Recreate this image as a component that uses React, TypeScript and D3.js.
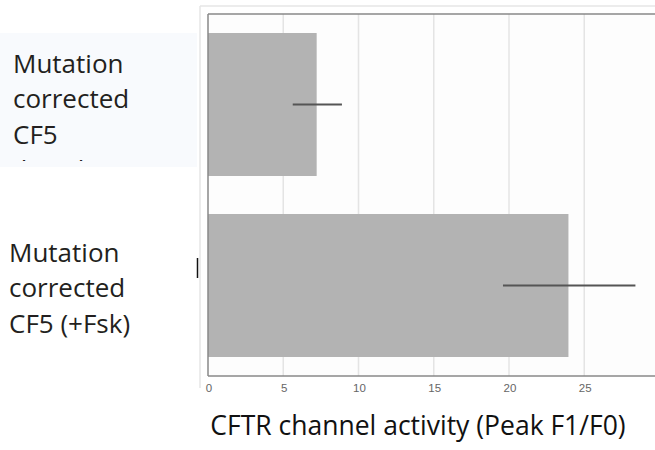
import React, { useEffect, useRef } from 'react'
import * as d3 from 'd3'

const categories = ['Mutation corrected CF5 (basal)', 'Mutation corrected CF5 (+Fsk)']
const labelLines = [
  ['Mutation', 'corrected', 'CF5', '(basal)'],
  ['Mutation', 'corrected', 'CF5 (+Fsk)']
]
const values = [7.22, 23.95]
const errLow = [5.63, 19.6]
const errHigh = [8.9, 28.4]
const xTicks = [0, 5, 10, 15, 20, 25]
const xTitle = 'CFTR channel activity (Peak F1/F0)'

const W = 655
const H = 450
const margin = { top: 14, left: 208, bottom: 74 }

export default function App() {
  const ref = useRef<SVGSVGElement>(null)

  useEffect(() => {
    const svg = d3.select(ref.current)
    svg.selectAll('*').remove()

    const x = d3.scaleLinear().domain([0, 30]).range([margin.left, margin.left + 30 * 15.05])
    const y = d3.scaleBand()
      .domain(categories)
      .range([margin.top, H - margin.bottom])
      .paddingInner(0.21)
      .paddingOuter(0.105)

    const bottom = H - margin.bottom

    // left label box behind first label
    svg.append('rect')
      .attr('x', 0).attr('y', 33).attr('width', 197).attr('height', 134)
      .attr('fill', '#f8fafd')

    // outer frame
    svg.append('line')
      .attr('x1', 200).attr('x2', W).attr('y1', 6).attr('y2', 6)
      .attr('stroke', '#e6e6e6').attr('stroke-width', 1.5)
    svg.append('line')
      .attr('x1', 200).attr('x2', 200).attr('y1', 6).attr('y2', 388)
      .attr('stroke', '#e6e6e6').attr('stroke-width', 1.5)

    // plot background
    svg.append('rect')
      .attr('x', margin.left).attr('y', margin.top)
      .attr('width', W - margin.left).attr('height', bottom - margin.top)
      .attr('fill', '#fdfdfd')

    // gridlines
    svg.append('g')
      .selectAll('line')
      .data(xTicks.filter(d => d > 0))
      .enter()
      .append('line')
        .attr('x1', d => x(d)).attr('x2', d => x(d))
        .attr('y1', margin.top).attr('y2', bottom)
        .attr('stroke', '#e4e4e4').attr('stroke-width', 1.5)

    // bars
    svg.append('g')
      .selectAll('rect')
      .data(values)
      .enter()
      .append('rect')
        .attr('x', x(0))
        .attr('y', (d, i) => y(categories[i]))
        .attr('width', d => x(d) - x(0))
        .attr('height', y.bandwidth())
        .attr('fill', '#b3b3b3')

    // error bars
    svg.append('g')
      .selectAll('line')
      .data(values)
      .enter()
      .append('line')
        .attr('x1', (d, i) => x(errLow[i]))
        .attr('x2', (d, i) => x(errHigh[i]))
        .attr('y1', (d, i) => y(categories[i]) + y.bandwidth() / 2)
        .attr('y2', (d, i) => y(categories[i]) + y.bandwidth() / 2)
        .attr('stroke', '#555').attr('stroke-width', 2)

    // plot border lines
    svg.append('line')
      .attr('x1', margin.left).attr('x2', W).attr('y1', margin.top).attr('y2', margin.top)
      .attr('stroke', '#888').attr('stroke-width', 1.5)
    svg.append('line')
      .attr('x1', margin.left).attr('x2', W).attr('y1', bottom).attr('y2', bottom)
      .attr('stroke', '#888').attr('stroke-width', 1.5)
    svg.append('line')
      .attr('x1', margin.left).attr('x2', margin.left).attr('y1', margin.top).attr('y2', bottom)
      .attr('stroke', '#888').attr('stroke-width', 1.5)

    // tick labels
    svg.append('g')
      .selectAll('text')
      .data(xTicks)
      .enter()
      .append('text')
        .attr('x', d => x(d) + 1)
        .attr('y', bottom + 16)
        .attr('text-anchor', 'middle')
        .attr('font-family', 'Liberation Sans, Arial, sans-serif')
        .attr('font-size', 11.5)
        .attr('fill', '#666')
        .text(d => d)

    // axis title
    svg.append('text')
      .attr('x', 418).attr('y', 435)
      .attr('text-anchor', 'middle')
      .attr('font-family', 'Open Sans, sans-serif')
      .attr('font-size', 26.5)
      .attr('fill', '#111')
      .text(xTitle)

    // category labels
    svg.append('clipPath').attr('id', 'lblclip')
      .append('rect').attr('x', 0).attr('y', 33).attr('width', 197).attr('height', 128)

    const labelX = [13, 9]
    const labelY = [73, 262]
    labelLines.forEach((lines, i) => {
      const t = svg.append('text')
        .attr('font-family', 'Open Sans, sans-serif')
        .attr('font-size', 26)
        .attr('fill', '#231f20')
        .attr('clip-path', i === 0 ? 'url(#lblclip)' : null)
      lines.forEach((l, j) => {
        t.append('tspan')
          .attr('x', labelX[i])
          .attr('y', labelY[i] + j * 35.3)
          .text(l)
      })
    })

    // stray tick mark left of the frame
    svg.append('line')
      .attr('x1', 197.5).attr('x2', 197.5).attr('y1', 258).attr('y2', 278)
      .attr('stroke', '#111').attr('stroke-width', 1.5)
  }, [])

  return (
    <svg
      ref={ref}
      width={W}
      height={H}
      style={{ position: 'absolute', left: 0, top: 0, background: '#fff' }}
    />
  )
}
